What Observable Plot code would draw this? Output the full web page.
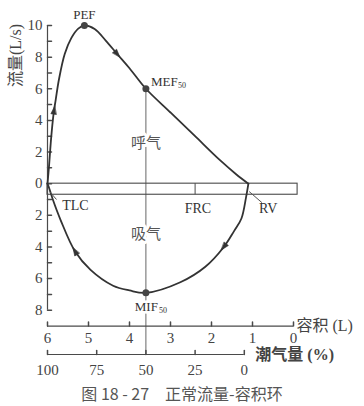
<!DOCTYPE html>
<html><head><meta charset="utf-8">
<script src="https://cdn.jsdelivr.net/npm/d3@7"></script>
<script src="https://cdn.jsdelivr.net/npm/@observablehq/plot@0.6"></script>
<style>
body{margin:0;background:#fff;}
#chart{width:364px;height:380px;}
#cap{font-family:"Noto Sans CJK SC",sans-serif;font-size:16px;color:#555;text-align:center;width:364px;height:26px;line-height:26px;white-space:pre;}
</style></head><body>
<div id="chart"></div>
<div id="cap">图 18 - 27　正常流量-容积环</div>
<script>
// Expiratory limb, TLC -> RV (volume L, flow L/s)
const expVolume = [6.0, 5.96, 5.92, 5.87, 5.84, 5.80, 5.72, 5.58, 5.42, 5.25, 5.1, 4.85, 4.58, 4.3, 4.0, 3.6, 3.0, 2.4, 1.8, 1.4, 1.1];
const expFlow   = [0, 1.2, 2.6, 4.0, 4.65, 5.3, 6.6, 8.2, 9.2, 9.8, 10.0, 9.78, 9.05, 8.2, 7.3, 6.0, 4.5, 3.0, 1.5, 0.6, 0];
// Inspiratory limb, RV -> TLC (flow drawn downward)
const inspVolume = [1.1, 1.16, 1.27, 1.45, 1.7, 2.15, 2.76, 3.6, 4.0, 4.4, 4.95, 5.33, 5.68, 5.87, 5.97, 6.0];
const inspFlow   = [0, -0.9, -2.2, -3.0, -4.0, -5.25, -6.23, -6.9, -6.75, -6.45, -5.45, -4.27, -2.3, -1.0, -0.2, 0];
// arrow positions (index into limb arrays)
const expArrowIdx = [4, 13];
const inspArrowIdx = [4, 11];
// key points
const pointNames = ["PEF", "MEF50", "MIF50"];
const pointVolume = [5.1, 3.6, 3.6];
const pointFlow = [10, 6.0, -6.9];
// lung volumes
const TLC = 6.0, RV = 1.2, FRC = 2.4;
// box under zero line
const boxVolume = [6.0, -0.1];
const boxFlow = [0, -0.7];
// axes
const yTicksAll = d3.range(-8, 11, 1);
const yTickLabels = [-8, -6, -4, -2, 0, 2, 4, 6, 8, 10];
const volTicks = [6, 5, 4, 3, 2, 1, 0];
const pctTicks = [100, 75, 50, 25, 0];
const volAxisFlow = -9;
const yDomain = [-10.8, 10];
// annotations
const annText = ["呼气", "吸气"];
const annVolume = [3.6, 3.6];
const annFlow = [2.55, -3.2];
const lvText = ["TLC", "FRC", "RV"];
const lvVolume = [5.32, 2.33, 0.62];
const lvFlow = [-1.4, -1.55, -1.55];
const leaderV1 = [5.95, 1.08], leaderF1 = [-0.5, -0.5], leaderV2 = [5.78, 0.77], leaderF2 = [-1.0, -1.2];
const yTitle = "流量(L/s)", yTitleFlow = 8.1;

const expData = expVolume.map((v, i) => ({v, f: expFlow[i]}));
const inspData = inspVolume.map((v, i) => ({v, f: inspFlow[i]}));

const W = 364, H = 380, mL = 47, mR = 71, mT = 25, mB = 26;
const kx = (W - mL - mR) / 6, ky = (H - mT - mB) / (yDomain[1] - yDomain[0]);
function arrowsFor(data, idx) {
  return idx.map(i => {
    const a = data[i - 1], b = data[i + 1];
    const dxp = -(b.v - a.v) * kx, dyp = -(b.f - a.f) * ky;
    return {v: data[i].v, f: data[i].f, r: Math.atan2(dxp, -dyp) * 180 / Math.PI};
  });
}
const arrows = [...arrowsFor(expData, expArrowIdx), ...arrowsFor(inspData, inspArrowIdx)];

const arrowHead = {draw(ctx, l) { ctx.moveTo(0, -l / 2); ctx.lineTo(-l * 0.33, l / 2); ctx.lineTo(l * 0.33, l / 2); ctx.closePath(); }};
const tickUp = {draw(ctx, l) { ctx.moveTo(0, 0); ctx.lineTo(0, -l); }};
const tickRight = {draw(ctx, l) { ctx.moveTo(0, 0); ctx.lineTo(l, 0); }};

const axisC = "#4a4a4a", curveC = "#333", textC = "#333", cnC = "#555";
const pctVol = p => RV + p / 100 * (TLC - RV);
const pts = pointNames.map((n, i) => ({n, v: pointVolume[i], f: pointFlow[i]}));

const chart = Plot.plot({
  width: W, height: H,
  marginLeft: mL, marginRight: mR, marginTop: mT, marginBottom: mB,
  x: {domain: [6, 0], axis: null},
  y: {domain: yDomain, axis: null},
  style: {background: "white", fontFamily: "'Liberation Serif', 'Noto Sans CJK SC', serif", fontSize: "15px", color: textC, overflow: "visible"},
  marks: [
    // vertical 50% line
    Plot.ruleX([pointVolume[1]], {y1: pointFlow[1], y2: yDomain[0], stroke: "#666", strokeWidth: 1}),
    // box
    Plot.rect([0], {x1: boxVolume[0], x2: boxVolume[1], y1: boxFlow[0], y2: boxFlow[1], fill: "none", stroke: axisC, strokeWidth: 1.1}),
    Plot.ruleX([FRC], {y1: boxFlow[0], y2: boxFlow[1], stroke: axisC, strokeWidth: 1}),
    // y axis
    Plot.ruleX([TLC], {y1: -8, y2: 10, stroke: axisC, strokeWidth: 1.2}),
    Plot.vector(yTicksAll, {x: TLC, y: d => d, length: 4, rotate: 0, anchor: "start", shape: tickRight, stroke: axisC}),
    Plot.text(yTickLabels, {x: TLC, y: d => d, text: d => String(Math.abs(d)), textAnchor: "end", dx: -5, fontSize: 15, fill: "#444"}),
    Plot.text([yTitle], {x: TLC, y: yTitleFlow, dx: -32, rotate: -90, textAnchor: "middle", lineAnchor: "middle", fontSize: 16, fill: "#444"}),
    // volume axis
    Plot.ruleY([volAxisFlow], {x1: 6, x2: 0, stroke: axisC, strokeWidth: 1.2}),
    Plot.vector(volTicks, {x: d => d, y: volAxisFlow, length: 4, rotate: 0, anchor: "start", shape: tickUp, stroke: axisC}),
    Plot.text(volTicks, {x: d => d, y: volAxisFlow, dy: 12, text: d => String(d), fontSize: 15, fill: "#444"}),
    Plot.text(["容积 (L)"], {x: 0, y: volAxisFlow, dx: 3, textAnchor: "start", fontSize: 16, fill: "#444"}),
    // tidal (%) axis
    Plot.ruleY([yDomain[0]], {x1: TLC, x2: RV, stroke: axisC, strokeWidth: 1.2}),
    Plot.vector(pctTicks, {x: pctVol, y: yDomain[0], length: 4, rotate: 0, anchor: "start", shape: tickUp, stroke: axisC}),
    Plot.text(pctTicks, {x: pctVol, y: yDomain[0], dy: 16, text: d => String(d), fontSize: 15, fill: "#444"}),
    Plot.text(["潮气量 (%)"], {x: RV, y: yDomain[0], dx: 11, textAnchor: "start", fontSize: 16, fill: "#444", fontWeight: "bold"}),
    // loop
    Plot.line(expData, {x: "v", y: "f", curve: "catmull-rom", stroke: curveC, strokeWidth: 1.8}),
    Plot.line(inspData, {x: "v", y: "f", curve: "catmull-rom", stroke: curveC, strokeWidth: 1.8}),
    Plot.vector(arrows, {x: "v", y: "f", rotate: "r", length: 8, anchor: "start", shape: arrowHead, fill: curveC, stroke: curveC, strokeWidth: 0.6}),
    Plot.dot(pts, {x: "v", y: "f", r: 3.5, fill: "#444"}),
    // labels
    Plot.text([pts[0]], {x: "v", y: "f", text: "n", dy: -11, fontSize: 13, fill: textC}),
    Plot.text([pts[1]], {x: "v", y: "f", text: () => "MEF", dx: 5, dy: -7, textAnchor: "start", fontSize: 13, fill: textC}),
    Plot.text([pts[1]], {x: "v", y: "f", text: () => "50", dx: 32, dy: -3, textAnchor: "start", fontSize: 8, fill: textC}),
    Plot.text([pts[2]], {x: "v", y: "f", text: () => "MIF", dx: 12, dy: 14, textAnchor: "end", fontSize: 13, fill: textC, stroke: "white", strokeWidth: 5}),
    Plot.text([pts[2]], {x: "v", y: "f", text: () => "50", dx: 13, dy: 18, textAnchor: "start", fontSize: 8, fill: textC}),
    Plot.text(annText, {x: (d, i) => annVolume[i], y: (d, i) => annFlow[i], text: d => d, fontSize: 15, fill: cnC, stroke: "white", strokeWidth: 6}),
    Plot.text(lvText, {x: (d, i) => lvVolume[i], y: (d, i) => lvFlow[i], text: d => d, fontSize: 14, fill: textC}),
    Plot.link([0, 1], {x1: i => leaderV1[i], y1: i => leaderF1[i], x2: i => leaderV2[i], y2: i => leaderF2[i], stroke: "#555", strokeWidth: 1})
  ]
});
document.getElementById("chart").append(chart);
</script>
</body></html>
